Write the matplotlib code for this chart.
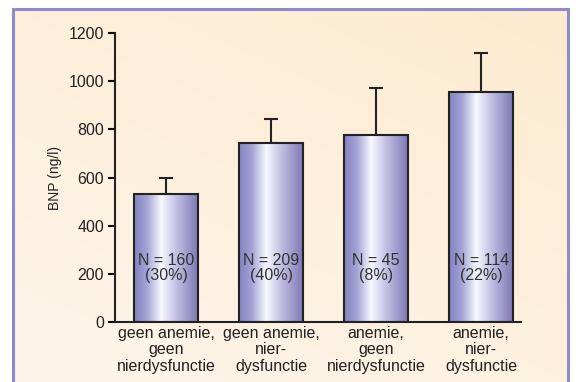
import numpy as np
import matplotlib
matplotlib.use("Agg")
import matplotlib.pyplot as plt
from matplotlib.colors import LinearSegmentedColormap
from matplotlib.patches import Rectangle

plt.rcParams["font.family"] = ["Liberation Sans", "DejaVu Sans"]

categories = ["geen anemie,\ngeen\nnierdysfunctie",
              "geen anemie,\nnier-\ndysfunctie",
              "anemie,\ngeen\nnierdysfunctie",
              "anemie,\nnier-\ndysfunctie"]
bnp = [530, 745, 775, 955]
bnp_err = [70, 100, 195, 160]
n_labels = ["N = 160\n(30%)", "N = 209\n(40%)", "N = 45\n(8%)", "N = 114\n(22%)"]
yticks = [0, 200, 400, 600, 800, 1000, 1200]

fig = plt.figure(figsize=(5.76, 3.82), dpi=100)

# panel background with soft gradient
bg = fig.add_axes([0.0226, 0.0, 0.9634, 0.976], zorder=0)
gx, gy = np.meshgrid(np.linspace(0, 1, 200), np.linspace(0, 1, 200))
grad = np.clip(0.6 * gy + 0.4 * gx, 0, 1)
bg_cmap = LinearSegmentedColormap.from_list("bg", ["#fef5ea", "#fdebd0"])
bg.imshow(grad, cmap=bg_cmap, origin="lower", aspect="auto", extent=[0, 1, 0, 1])
bg.set_axis_off()
fig.patches.append(Rectangle((0.0226, -0.01), 0.9634, 0.986, transform=fig.transFigure,
                             fill=False, edgecolor="#8c8ccc", lw=2.2, zorder=5))

ax = fig.add_axes([0.1997, 0.157, 0.705, 0.7566], zorder=1)
ax.patch.set_alpha(0)

x = np.arange(len(bnp))
width = 0.61
bars = ax.bar(x, bnp, width=width, color="none", edgecolor="#222222", lw=1.5, zorder=3)
ax.errorbar(x, bnp, yerr=[np.zeros(len(bnp)), bnp_err], fmt="none", ecolor="#222222",
            elinewidth=1.5, capsize=5, capthick=1.5, zorder=2)

bar_cmap = LinearSegmentedColormap.from_list(
    "bar", [(0, "#8282c2"), (0.2, "#a4a4d6"), (0.42, "#f8f8ff"), (0.65, "#c2c0e2"), (1, "#7a76b4")])
grad_row = np.linspace(0, 1, 256).reshape(1, -1)
for rect in bars:
    x0, w, h = rect.get_x(), rect.get_width(), rect.get_height()
    im = ax.imshow(grad_row, cmap=bar_cmap, aspect="auto", extent=[x0, x0 + w, 0, h], zorder=2.5)
    im.set_clip_path(rect)

for xi, lab in zip(x, n_labels):
    ax.text(xi, 225, lab, ha="center", va="center", fontsize=11.5, color="#333333",
            linespacing=1.0, zorder=4)

ax.set_xlim(-0.486, 3.38)
ax.set_ylim(0, 1200)
ax.set_yticks(yticks)
ax.set_xticks(x)
ax.set_xticklabels(categories, fontsize=11.5, color="#222222", linespacing=1.1)
ax.tick_params(axis="x", length=0, pad=3)
ax.tick_params(axis="y", length=5, width=1.5, pad=3, labelsize=11.5, labelcolor="#222222")
for s in ["top", "right"]:
    ax.spines[s].set_visible(False)
for s in ["left", "bottom"]:
    ax.spines[s].set_linewidth(1.5)
    ax.spines[s].set_color("#222222")
ax.set_ylabel("BNP (ng/l)", fontsize=10, color="#222222", labelpad=4.5)

fig.savefig("out.png", dpi=100)
